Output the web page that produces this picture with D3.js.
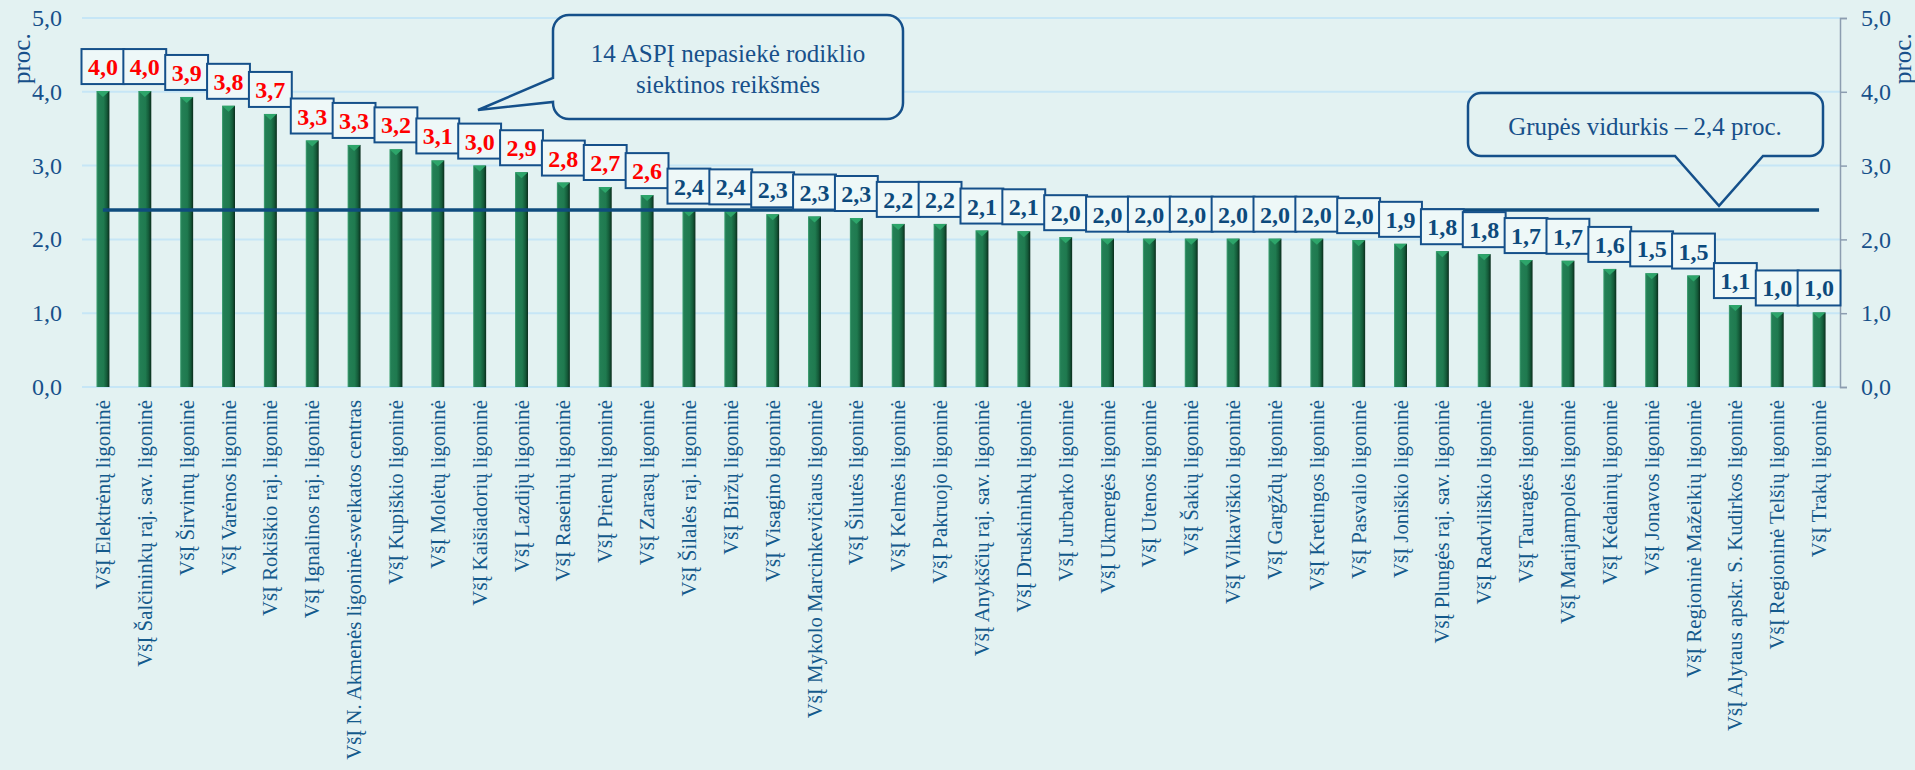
<!DOCTYPE html>
<html>
<head>
<meta charset="utf-8">
<script src="https://cdn.jsdelivr.net/npm/d3@7"></script>
<style>
  html, body { margin: 0; padding: 0; background: #e3f2f2; }
  svg { display: block; font-family: "Liberation Serif", "Times New Roman", serif; }
</style>
</head>
<body>
<svg width="1915" height="770"></svg>
<script>
// hospitals, sorted by value
var categories = [
  "VšĮ Elektrėnų ligoninė", "VšĮ Šalčininkų raj. sav. ligoninė", "VšĮ Širvintų ligoninė",
  "VšĮ Varėnos ligoninė", "VšĮ Rokiškio raj. ligoninė", "VšĮ Ignalinos raj. ligoninė",
  "VšĮ N. Akmenės ligoninė-sveikatos centras", "VšĮ Kupiškio ligoninė", "VšĮ Molėtų ligoninė",
  "VšĮ Kaišiadorių ligoninė", "VšĮ Lazdijų ligoninė", "VšĮ Raseinių ligoninė",
  "VšĮ Prienų ligoninė", "VšĮ Zarasų ligoninė", "VšĮ Šilalės raj. ligoninė",
  "VšĮ Biržų ligoninė", "VšĮ Visagino ligoninė", "VšĮ Mykolo Marcinkevičiaus ligoninė",
  "VšĮ Šilutės ligoninė", "VšĮ Kelmės ligoninė", "VšĮ Pakruojo ligoninė",
  "VšĮ Anykščių raj. sav. ligoninė", "VšĮ Druskininkų ligoninė", "VšĮ Jurbarko ligoninė",
  "VšĮ Ukmergės ligoninė", "VšĮ Utenos ligoninė", "VšĮ Šakių ligoninė",
  "VšĮ Vilkaviškio ligoninė", "VšĮ Gargždų ligoninė", "VšĮ Kretingos ligoninė",
  "VšĮ Pasvalio ligoninė", "VšĮ Joniškio ligoninė", "VšĮ Plungės raj. sav. ligoninė",
  "VšĮ Radviliškio ligoninė", "VšĮ Tauragės ligoninė", "VšĮ Marijampolės ligoninė",
  "VšĮ Kėdainių ligoninė", "VšĮ Jonavos ligoninė", "VšĮ Regioninė Mažeikių ligoninė",
  "VšĮ Alytaus apskr. S. Kudirkos ligoninė", "VšĮ Regioninė Telšių ligoninė", "VšĮ Trakų ligoninė"
];
var values = [
  4.01, 4.01, 3.93, 3.81, 3.70, 3.34, 3.28, 3.22, 3.07, 3.00,
  2.91, 2.77, 2.71, 2.60, 2.39, 2.38, 2.34, 2.31, 2.29, 2.21,
  2.21, 2.12, 2.11, 2.03, 2.01, 2.01, 2.01, 2.01, 2.01, 2.01,
  1.99, 1.94, 1.84, 1.80, 1.72, 1.71, 1.60, 1.54, 1.51, 1.11,
  1.01, 1.01
];
var notReached = 14;           // first 14 shown in red
var groupAverage = 2.4;
var yTicks = [0, 1, 2, 3, 4, 5];
var calloutTop = ["14 ASPĮ nepasiekė rodiklio", "siektinos reikšmės"];
var calloutAvg = "Grupės vidurkis – 2,4 proc.";

var blue = "#15508a", textBlue = "#17508a";
var svg = d3.select("svg");
var fmt = function (v) { return d3.format(".1f")(v).replace(".", ","); };

var x = d3.scaleBand().domain(categories).range([82, 1840]).padding(0);
var y = d3.scaleLinear().domain([0, 5]).range([387, 18]);

// bar gradient
var defs = svg.append("defs");
var grad = defs.append("linearGradient").attr("id", "barGrad");
[[0, "#4aa87c"], [0.12, "#237f55"], [0.55, "#1f7a4f"], [0.8, "#145a39"], [1, "#0a2d1c"]].forEach(function (s) {
  grad.append("stop").attr("offset", s[0]).attr("stop-color", s[1]);
});

// gridlines
svg.append("g").selectAll("line").data(yTicks).enter().append("line")
  .attr("x1", 82).attr("x2", 1840)
  .attr("y1", function (d) { return y(d); }).attr("y2", function (d) { return y(d); })
  .attr("stroke", "#c6e6f6").attr("stroke-width", 2);

// left axis labels
svg.append("g").selectAll("text").data(yTicks).enter().append("text")
  .attr("x", 62).attr("y", function (d) { return y(d) + 8; })
  .attr("text-anchor", "end").attr("font-size", 24).attr("fill", textBlue)
  .text(fmt);

// right axis
var rAxis = svg.append("g").attr("transform", "translate(1840,0)")
  .call(d3.axisRight(y).tickValues(yTicks).tickSize(7).tickPadding(14).tickFormat(fmt));
rAxis.select(".domain").attr("stroke", "#8c9db0").attr("stroke-width", 1.5);
rAxis.selectAll(".tick line").attr("stroke", "#8c9db0").attr("stroke-width", 1.5);
rAxis.selectAll(".tick text").attr("font-size", 24).attr("fill", textBlue)
  .attr("font-family", "Liberation Serif, Times New Roman, serif");

// axis titles
svg.append("text").attr("transform", "translate(30,84) rotate(-90)")
  .attr("font-size", 25).attr("fill", textBlue).text("proc.");
svg.append("text").attr("transform", "translate(1911,84) rotate(-90)")
  .attr("font-size", 25).attr("fill", textBlue).text("proc.");

// bars
var bw = 13;
var bars = svg.append("g").selectAll("g").data(values).enter().append("g");
bars.append("rect")
  .attr("x", function (d, i) { return x(categories[i]) + x.bandwidth() / 2 - bw / 2; })
  .attr("y", function (d) { return y(d); })
  .attr("width", bw)
  .attr("height", function (d) { return y(0) - y(d); })
  .attr("fill", "url(#barGrad)");
bars.append("path")
  .attr("d", function (d, i) {
    var x0 = x(categories[i]) + x.bandwidth() / 2 - bw / 2, t = y(d);
    return "M" + x0 + "," + t + "h" + bw + "l" + (-bw / 2) + ",6z";
  })
  .attr("fill", "#2da56a");

// average line
svg.append("line")
  .attr("x1", x(categories[0]) + x.bandwidth() / 2)
  .attr("x2", x(categories[categories.length - 1]) + x.bandwidth() / 2)
  .attr("y1", y(groupAverage)).attr("y2", y(groupAverage))
  .attr("stroke", "#0f4c7e").attr("stroke-width", 3.5);

// value labels
var lh = 35, lw = x.bandwidth() + 1;
var labels = svg.append("g").selectAll("g").data(values).enter().append("g")
  .attr("transform", function (d, i) {
    return "translate(" + (x(categories[i]) + x.bandwidth() / 2) + "," + (y(d) - 7 - lh) + ")";
  });
labels.append("rect")
  .attr("x", -lw / 2).attr("y", 0).attr("width", lw).attr("height", lh)
  .attr("fill", "#eef8f8").attr("stroke", blue).attr("stroke-width", 2);
labels.append("text")
  .attr("x", 0).attr("y", lh - 9)
  .attr("text-anchor", "middle").attr("font-size", 24).attr("font-weight", "bold")
  .attr("fill", function (d, i) { return i < notReached ? "#ff0000" : "#0d4a7c"; })
  .text(fmt);

// category labels
svg.append("g").selectAll("text").data(categories).enter().append("text")
  .attr("transform", function (d) {
    return "translate(" + (x(d) + x.bandwidth() / 2 + 7) + ",400) rotate(-90)";
  })
  .attr("text-anchor", "end").attr("font-size", 20.8).attr("fill", "#145a8c")
  .text(function (d) { return d; });

// callout shapes
function callout(x0, y0, x1, y1, r, tail) {
  var p = d3.path();
  p.moveTo(x0 + r, y0);
  p.lineTo(x1 - r, y0); p.arcTo(x1, y0, x1, y0 + r, r);
  p.lineTo(x1, y1 - r); p.arcTo(x1, y1, x1 - r, y1, r);
  if (tail.side === "bottom") {
    p.lineTo(tail.a2, y1); p.lineTo(tail.tx, tail.ty); p.lineTo(tail.a1, y1);
  }
  p.lineTo(x0 + r, y1); p.arcTo(x0, y1, x0, y1 - r, r);
  if (tail.side === "left") {
    p.lineTo(x0, tail.a2); p.lineTo(tail.tx, tail.ty); p.lineTo(x0, tail.a1);
  }
  p.lineTo(x0, y0 + r); p.arcTo(x0, y0, x0 + r, y0, r);
  p.closePath();
  return p.toString();
}

svg.append("path")
  .attr("d", callout(553, 15, 903, 119, 16, { side: "left", a1: 78, a2: 102, tx: 478, ty: 110 }))
  .attr("fill", "#e3f2f2").attr("stroke", blue).attr("stroke-width", 2.5);
svg.append("text").attr("text-anchor", "middle").attr("font-size", 25).attr("fill", textBlue)
  .selectAll("tspan").data(calloutTop).enter().append("tspan")
  .attr("x", 728).attr("y", function (d, i) { return 62 + i * 31; })
  .text(function (d) { return d; });

svg.append("path")
  .attr("d", callout(1468, 93, 1823, 156, 13, { side: "bottom", a1: 1675, a2: 1763, tx: 1719, ty: y(groupAverage) - 4 }))
  .attr("fill", "#e3f2f2").attr("stroke", blue).attr("stroke-width", 2.5);
svg.append("text").attr("x", 1645).attr("y", 135).attr("text-anchor", "middle")
  .attr("font-size", 25).attr("fill", textBlue).text(calloutAvg);
</script>
</body>
</html>
